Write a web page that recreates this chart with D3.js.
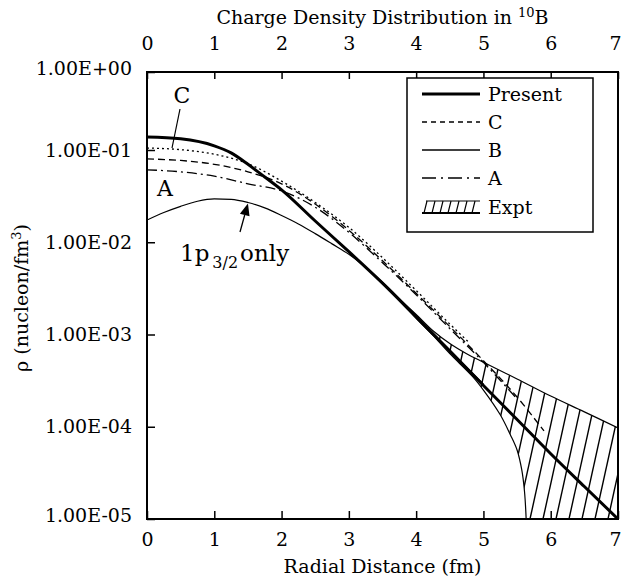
<!DOCTYPE html>
<html><head><meta charset="utf-8">
<script src="https://cdn.jsdelivr.net/npm/d3@7"></script>
<style>
body{margin:0;background:#fff}
svg{display:block}
text{font-family:"DejaVu Serif",serif;fill:#000}
</style>
</head><body>
<svg id="c" width="621" height="585"></svg>
<script>
// ---- data ----
const xTicks = [0,1,2,3,4,5,6,7];
const xTickLabels = ["0","1","2","3","4","5","6","7"];
const yTicks = [1e-5,1e-4,1e-3,1e-2,1e-1,1];
const yTickLabels = ["1.00E-05","1.00E-04","1.00E-03","1.00E-02","1.00E-01","1.00E+00"];

const present = [[0,0.147],[0.5,0.139],[1,0.113],[1.25,0.093],[1.5,0.07],[1.75,0.051],[2,0.037],[2.5,0.017],[3,0.0079],[3.5,0.0036],[4,0.00155],[4.5,0.00066],[5,0.00028],[5.5,0.00012],[6,5.1e-5],[6.5,2.25e-5],[7,1e-5]];
const curveC = [[0,0.106],[0.5,0.101],[1,0.09],[1.5,0.071],[2,0.046],[2.5,0.027],[3,0.0145],[3.5,0.0068],[4,0.003],[4.5,0.0013],[4.8,0.0008]];
const curveD = [[0,0.08],[0.5,0.077],[1,0.07],[1.5,0.058],[2,0.043],[2.5,0.026],[3,0.0135],[3.5,0.0063],[4,0.0028],[4.5,0.00122],[5,0.00052],[5.5,0.00021],[5.9,9e-5]];
const curveA = [[0,0.061],[0.5,0.058],[1,0.052],[1.5,0.043],[2,0.036],[2.5,0.024],[3,0.0128],[3.5,0.006],[4,0.0027],[4.5,0.00116],[5,0.0005],[5.5,0.0002]];
const curveB = [[0,0.0174],[0.25,0.021],[0.5,0.0245],[0.75,0.0278],[1,0.0295],[1.25,0.0292],[1.5,0.027],[1.75,0.0236],[2,0.0195],[2.25,0.0158],[2.5,0.0124],[2.75,0.0096],[3,0.0074],[3.5,0.0037],[4,0.0016],[4.5,0.00068],[5,0.00029]];
const exptUpper = [[3.7,0.0026],[4,0.00165],[4.25,0.0011],[4.5,0.0008],[4.75,0.00062],[5,0.0005],[5.5,0.00033],[6,0.000215],[6.5,0.000145],[7,9.7e-5]];
const exptLower = [[3.7,0.0026],[4,0.0015],[4.25,0.00098],[4.5,0.00062],[4.84,0.00035],[5,0.00025],[5.25,0.000135],[5.4,8.2e-5],[5.5,5.6e-5],[5.57,3.4e-5],[5.61,2e-5],[5.635,1e-5],[5.645,5e-6]];

const legendNames = ["Present","C","B","A","Expt"];

// ---- layout ----
const L=147, R=618, T=72, B=519;
const svg = d3.select("#c");
const x = d3.scaleLinear().domain([0,7]).range([L,R]);
const y = d3.scaleLog().domain([1e-5,1e-1,1]).range([B,150,T]);

const defs = svg.append("defs");
defs.append("clipPath").attr("id","plot").append("rect")
  .attr("x",L).attr("y",T).attr("width",R-L).attr("height",B-T);

const line = d3.line().x(d=>x(d[0])).y(d=>y(d[1])).curve(d3.curveMonotoneX);
const bandLine = d3.line().x(d=>x(d[0])).y(d=>y(d[1])).curve(d3.curveCatmullRom.alpha(0.5));

// band clip: upper forward, down outside the right edge, along below the bottom, lower backward
const upEnd = exptUpper[exptUpper.length-1];
const loEnd = exptLower[exptLower.length-1];
const below = Math.max(y(loEnd[1]), B) + 20;
defs.append("clipPath").attr("id","band").append("path")
  .attr("d", bandLine(exptUpper)
    + `L${x(upEnd[0])+10},${y(upEnd[1])}L${x(upEnd[0])+10},${below}L${x(loEnd[0])},${below}`
    + "L" + bandLine(exptLower.slice().reverse()).slice(1) + "Z");

const plotG = svg.append("g").attr("clip-path","url(#plot)");
const hatchG = plotG.append("g").attr("clip-path","url(#band)");
const slope = 0.22;
for (let px = L - 150; px < R + 10; px += 13) {
  hatchG.append("line")
    .attr("x1",px).attr("y1",B).attr("x2",px + slope*(B-T)).attr("y2",T)
    .attr("stroke","#000").attr("stroke-width",1.4);
}
[exptUpper, exptLower].forEach(s=>{
  plotG.append("path").attr("d",bandLine(s)).attr("fill","none").attr("stroke","#000").attr("stroke-width",1.2);
});

const series = [
  {d:curveB, w:1.2, dash:null},
  {d:curveA, w:1.3, dash:"10,4,2,4"},
  {d:curveD, w:1.3, dash:"7,4"},
  {d:curveC, w:1.3, dash:"2,3"},
  {d:present, w:3, dash:null}
];
series.forEach(s=>{
  plotG.append("path").attr("d",line(s.d)).attr("fill","none")
    .attr("stroke","#000").attr("stroke-width",s.w)
    .attr("stroke-dasharray",s.dash);
});

// frame
svg.append("rect").attr("x",L).attr("y",T).attr("width",R-L).attr("height",B-T)
  .attr("fill","none").attr("stroke","#000").attr("stroke-width",2);

// axes
const fs = 19;
const xb = svg.append("g").attr("transform",`translate(0,${B})`)
  .call(d3.axisBottom(x).tickValues(xTicks).tickFormat((d,i)=>xTickLabels[i]).tickSizeInner(-8).tickSizeOuter(0).tickPadding(14));
const xt = svg.append("g").attr("transform",`translate(0,${T})`)
  .call(d3.axisTop(x).tickValues(xTicks).tickFormat((d,i)=>xTickLabels[i]).tickSizeInner(-7).tickSizeOuter(0).tickPadding(22));
const yl = svg.append("g").attr("transform",`translate(${L},0)`)
  .call(d3.axisLeft(y).tickValues(yTicks).tickFormat((d,i)=>yTickLabels[i]).tickSizeInner(-8).tickSizeOuter(0).tickPadding(15));
[xb,xt,yl].forEach(g=>{
  g.select(".domain").remove();
  g.selectAll("line").attr("stroke","#000").attr("stroke-width",1.5);
  g.selectAll("text").style("font-family","DejaVu Serif").style("font-size",fs+"px").attr("fill","#000");
});
// keep the last x label inside the picture
[xb,xt].forEach(g=>{
  g.selectAll(".tick").filter(d=>d===7).select("text").attr("text-anchor","end").attr("x",3);
});
// end labels of the y axis sit slightly above their ticks
yl.selectAll(".tick").filter(d=>d===1 || d===1e-5).select("text").attr("y",-4);

// titles
const title = svg.append("text").attr("x",(L+R)/2).attr("y",24).attr("text-anchor","middle").style("font-size",fs+"px");
title.append("tspan").text("Charge Density Distribution in ");
title.append("tspan").attr("dy",-7).style("font-size","13px").text("10");
title.append("tspan").attr("dy",7).text("B");

svg.append("text").attr("x",(L+R)/2).attr("y",573).attr("text-anchor","middle").style("font-size",fs+"px").text("Radial Distance (fm)");

const yt = svg.append("text").attr("transform","translate(28,298) rotate(-90)").attr("text-anchor","middle").style("font-size",fs+"px");
yt.append("tspan").text("ρ (nucleon/fm");
yt.append("tspan").attr("dy",-7).style("font-size","13px").text("3");
yt.append("tspan").attr("dy",7).text(")");

// annotations
svg.append("text").attr("x",182).attr("y",103).attr("text-anchor","middle").style("font-size","22px").text("C");
svg.append("line").attr("x1",180).attr("y1",109).attr("x2",172).attr("y2",148).attr("stroke","#000").attr("stroke-width",1.2);
svg.append("text").attr("x",165).attr("y",196).attr("text-anchor","middle").style("font-size","22px").text("A");

const lab = svg.append("text").attr("x",180).attr("y",261).style("font-size","23px");
lab.append("tspan").text("1p");
lab.append("tspan").attr("dx",3).attr("dy",7).style("font-size","16px").text("3/2");
lab.append("tspan").attr("dx",2).attr("dy",-7).text("only");

// arrow to curve B
{
  const tx = x(1.5), ty = y(curveB[6][1]) + 1;
  const sx = 240, sy = 232;
  const ang = Math.atan2(ty-sy, tx-sx);
  const hl = 12, hw = 5;
  const bx = tx - hl*Math.cos(ang), by = ty - hl*Math.sin(ang);
  svg.append("line").attr("x1",sx).attr("y1",sy).attr("x2",bx).attr("y2",by).attr("stroke","#000").attr("stroke-width",1.3);
  svg.append("path").attr("d",`M${tx},${ty}L${bx + hw*Math.sin(ang)},${by - hw*Math.cos(ang)}L${bx - hw*Math.sin(ang)},${by + hw*Math.cos(ang)}Z`).attr("fill","#000");
}

// legend
const lg = svg.append("g");
lg.append("rect").attr("x",407).attr("y",78).attr("width",186).attr("height",154).attr("fill","#fff").attr("stroke","#000").attr("stroke-width",1.5);
const rows = [94,122,150,178,207];
const legStyle = [{w:3,dash:null},{w:1.3,dash:"5,4"},{w:1.3,dash:null},{w:1.3,dash:"14,5,2,5"},null];
legendNames.forEach((n,i)=>{
  const ry = rows[i];
  if (legStyle[i]) {
    lg.append("line").attr("x1",422).attr("x2",480).attr("y1",ry).attr("y2",ry)
      .attr("stroke","#000").attr("stroke-width",legStyle[i].w).attr("stroke-dasharray",legStyle[i].dash);
  } else {
    lg.append("line").attr("x1",426).attr("x2",480).attr("y1",ry-6).attr("y2",ry-6).attr("stroke","#000").attr("stroke-width",1.2);
    lg.append("line").attr("x1",422).attr("x2",480).attr("y1",ry+6).attr("y2",ry+6).attr("stroke","#000").attr("stroke-width",1.8);
    for (let k=0;k<7;k++){
      const bx0 = 424 + k*8;
      lg.append("line").attr("x1",bx0).attr("y1",ry+6).attr("x2",bx0+3).attr("y2",ry-6).attr("stroke","#000").attr("stroke-width",1.2);
    }
  }
  lg.append("text").attr("x",488).attr("y",ry).attr("dy","0.35em").style("font-size",fs+"px").text(n);
});
</script>
</body></html>
